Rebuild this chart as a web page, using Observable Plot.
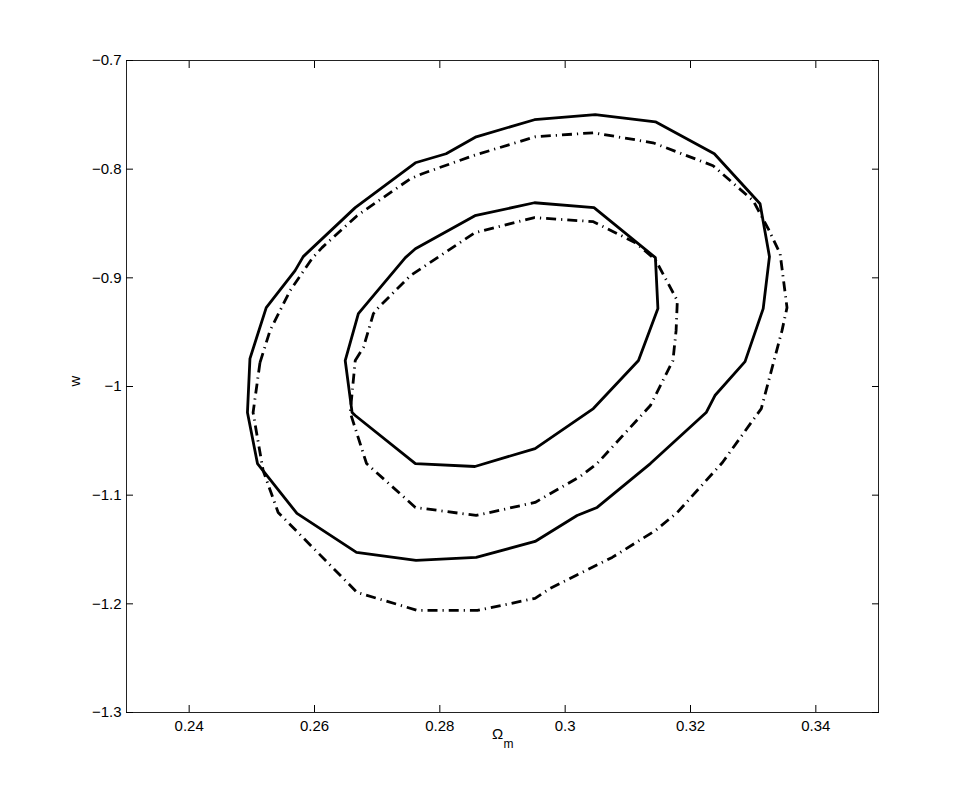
<!DOCTYPE html>
<html>
<head>
<meta charset="utf-8">
<script src="https://cdn.jsdelivr.net/npm/d3@7"></script>
<script src="https://cdn.jsdelivr.net/npm/@observablehq/plot@0.6"></script>
<style>
  html, body { margin: 0; padding: 0; background: #fff; }
  #chart { width: 969px; height: 801px; }
</style>
</head>
<body>
<div id="chart"></div>
<script>
// Tick values and labels
const xTicks = [0.24, 0.26, 0.28, 0.3, 0.32, 0.34];
const xTickLabels = ["0.24", "0.26", "0.28", "0.3", "0.32", "0.34"];
const yTicks = [-1.3, -1.2, -1.1, -1, -0.9, -0.8, -0.7];
const yTickLabels = ["\u22121.3", "\u22121.2", "\u22121.1", "\u22121", "\u22120.9", "\u22120.8", "\u22120.7"];

// Outer contour, solid line [Omega_m, w]
const outerSolid = [
  [0.2523, -0.9274], [0.2569, -0.8934], [0.2582, -0.8805], [0.2665, -0.8354],
  [0.2761, -0.7941], [0.2810, -0.7858], [0.2858, -0.7702], [0.2951, -0.7545],
  [0.3048, -0.7499], [0.3144, -0.7564], [0.3238, -0.7858], [0.3311, -0.8318],
  [0.3326, -0.8805], [0.3316, -0.9283], [0.3287, -0.9771], [0.3239, -1.0083],
  [0.3225, -1.0240], [0.3136, -1.0709], [0.3051, -1.1113], [0.3019, -1.1187],
  [0.2952, -1.1426], [0.2858, -1.1573], [0.2762, -1.1600], [0.2667, -1.1527],
  [0.2572, -1.1168], [0.2509, -1.0709], [0.2493, -1.0240], [0.2497, -0.9743]
];

// Outer contour, dash-dot line
const outerDashDot = [
  [0.2513, -0.9780], [0.2529, -0.9486], [0.2561, -0.9118], [0.2596, -0.8823],
  [0.2612, -0.8722], [0.2668, -0.8428], [0.2753, -0.8088], [0.2772, -0.8042],
  [0.2853, -0.7876], [0.2952, -0.7702], [0.3045, -0.7665], [0.3140, -0.7757],
  [0.3236, -0.7968], [0.3300, -0.8290], [0.3324, -0.8548], [0.3343, -0.8777],
  [0.3354, -0.9274], [0.3346, -0.9486], [0.3313, -1.0203], [0.3251, -1.0699],
  [0.3179, -1.1159], [0.3144, -1.1325], [0.3075, -1.1573], [0.3024, -1.1720],
  [0.2976, -1.1858], [0.2952, -1.1950], [0.2860, -1.2060], [0.2764, -1.2060],
  [0.2668, -1.1895], [0.2542, -1.1159], [0.2518, -1.0773], [0.2502, -1.0240]
];

// Inner contour, solid line
const innerSolid = [
  [0.2649, -0.9761], [0.2670, -0.9329], [0.2678, -0.9274], [0.2745, -0.8814],
  [0.2761, -0.8732], [0.2856, -0.8428], [0.2951, -0.8309], [0.3046, -0.8354],
  [0.3144, -0.8814], [0.3148, -0.9283], [0.3117, -0.9761], [0.3045, -1.0203],
  [0.2952, -1.0571], [0.2856, -1.0736], [0.2761, -1.0709], [0.2665, -1.0267],
  [0.2660, -1.0240]
];

// Inner contour, dash-dot line
const innerDashDot = [
  [0.2665, -0.9761], [0.2678, -0.9642], [0.2694, -0.9329], [0.2702, -0.9274],
  [0.2753, -0.8980], [0.2856, -0.8584], [0.2951, -0.8446], [0.3045, -0.8483],
  [0.3112, -0.8676], [0.3144, -0.8833], [0.3179, -0.9210], [0.3177, -0.9486],
  [0.3172, -0.9761], [0.3136, -1.0175], [0.3051, -1.0709], [0.3024, -1.0828],
  [0.2952, -1.1067], [0.2858, -1.1187], [0.2761, -1.1113], [0.2683, -1.0709],
  [0.2657, -1.0240]
];

const toRows = (pts, name) => pts.map(([x, y]) => ({x, y, name}));
const solidRows = [...toRows(outerSolid, "outer"), ...toRows(innerSolid, "inner")];
const dashRows = [...toRows(outerDashDot, "outer"), ...toRows(innerDashDot, "inner")];

const fmt = (ticks, labels) => (d) => labels[ticks.indexOf(d)] ?? String(d);
const font = "'Liberation Sans', Arial, Helvetica, sans-serif";

const chart = Plot.plot({
  width: 969,
  height: 801,
  marginLeft: 126,
  marginRight: 91,
  marginTop: 60,
  marginBottom: 89,
  style: {fontFamily: font, fontSize: "15px", background: "#fff", color: "#000"},
  x: {domain: [0.23, 0.35]},
  y: {domain: [-1.3, -0.7]},
  marks: [
    Plot.line(solidRows, {x: "x", y: "y", z: "name", curve: "linear-closed",
      stroke: "#000", strokeWidth: 2.8, strokeLinejoin: "miter", strokeLinecap: "butt"}),
    Plot.line(dashRows, {x: "x", y: "y", z: "name", curve: "linear-closed",
      stroke: "#000", strokeWidth: 2.8, strokeLinejoin: "miter", strokeLinecap: "butt",
      strokeDasharray: "10,5,1.2,5"}),
    Plot.frame({stroke: "#222", strokeWidth: 1}),
    Plot.axisX(xTicks, {anchor: "bottom", tickSize: -7, tickPadding: 15,
      tickFormat: fmt(xTicks, xTickLabels), label: null, fontSize: 15}),
    Plot.axisX(xTicks, {anchor: "top", tickSize: -7, fill: "none", label: null}),
    Plot.axisY(yTicks, {anchor: "left", tickSize: -7, tickPadding: 12,
      tickFormat: fmt(yTicks, yTickLabels), label: null, fontSize: 15}),
    Plot.axisY(yTicks, {anchor: "right", tickSize: -7, fill: "none", label: null}),
    Plot.text(["w"], {frameAnchor: "left", dx: -51, rotate: -90, fontSize: 15, text: d => d}),
    Plot.text(["\u03A9"], {frameAnchor: "bottom", dx: -5, dy: 26, fontSize: 15, text: d => d}),
    Plot.text(["m"], {frameAnchor: "bottom", dx: 6, dy: 35, fontSize: 12, text: d => d})
  ]
});

document.getElementById("chart").appendChild(chart);
</script>
</body>
</html>
